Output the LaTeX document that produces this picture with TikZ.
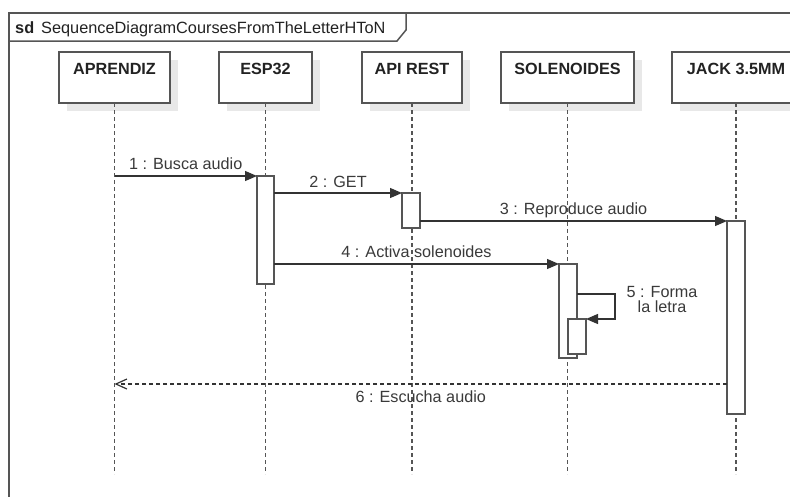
\documentclass[tikz,border=0pt]{standalone}
\usepackage{fontspec}
\setmainfont{Liberation Sans}
\usetikzlibrary{arrows.meta,shadows}
\definecolor{lc}{HTML}{555555}
\definecolor{tc}{HTML}{222222}
\definecolor{mc}{HTML}{333333}
\definecolor{lt}{HTML}{3a3a3a}
\begin{document}
\begin{tikzpicture}[x=1pt,y=-1pt,
  head/.style={draw=lc, line width=1.3pt, fill=white, minimum height=51pt, inner sep=0pt, outer sep=0pt,
    text height=22pt, text depth=29pt, font=\fontsize{16.2}{19}\selectfont\bfseries, text=tc, anchor=north,
    drop shadow={shadow xshift=8pt, shadow yshift=-8pt, fill=black!9, opacity=1}},
  act/.style={draw=lc, line width=1.3pt, fill=white, inner sep=0pt, outer sep=0pt, minimum width=18pt, anchor=north},
  life/.style={draw=lc, line width=1.2pt, dash pattern=on 4pt off 3pt},
  msg/.style={draw=mc, line width=1.2pt, -{Triangle[length=12pt,width=10pt]}},
  ret/.style={draw=mc, line width=1.2pt, dash pattern=on 4pt off 3pt, -{Straight Barb[length=11pt,width=10pt]}},
  lbl/.style={font=\fontsize{16.2}{15}\selectfont, text=lt, inner sep=0pt}
]
\clip (0,0) rectangle (790,496);
\fill[white] (0,0) rectangle (790,496);
% frame
\draw[lc, line width=1.5pt] (9,13) rectangle (840,540);
\draw[lc, line width=1.5pt] (9,41) -- (397,41) -- (406,30) -- (406,13);
\node[anchor=base west, inner sep=0pt, font=\fontsize{16.3}{19}\selectfont, text=tc] (title) at (15,33)
  {\textbf{sd}\hspace{7pt}SequenceDiagramCoursesFromTheLetterHToN};
% lifeline heads
\node[head, minimum width=111pt] (apr) at (114.5,52) {APRENDIZ};
\node[head, minimum width=93pt] (esp) at (265.5,52) {ESP32};
\node[head, minimum width=100pt] (api) at (412,52) {API REST};
\node[head, minimum width=133pt] (sol) at (567.5,52) {SOLENOIDES};
\node[head, minimum width=128pt] (jack) at (736,52) {JACK 3.5MM};
% lifelines
\foreach \n in {apr,esp,api,sol,jack}
  \draw[life] (\n.south) -- (\n.south |- 0,474);
% activations
\node[act, minimum width=17pt, minimum height=108pt] (espA) at (265.5,176) {};
\node[act, minimum height=35pt] (apiA) at (411,193) {};
\node[act, minimum height=193pt] (jackA) at (736,221) {};
\node[act, minimum height=94pt] (solA) at (568,264) {};
\node[act, minimum height=35pt] (solB) at (577,319) {};
% messages
\draw[msg] (apr |- espA.north west) -- node[lbl, anchor=base, yshift=7pt] (l1) {1 : Busca audio} (espA.north west);
\draw[msg] (espA.east |- apiA.north west) -- node[lbl, anchor=base, yshift=6pt] (l2) {2 : GET} (apiA.north west);
\draw[msg] (apiA.east |- jackA.north west) -- node[lbl, anchor=base, yshift=7pt] (l3) {3 : Reproduce audio} (jackA.north west);
\draw[msg] (espA.east |- solA.north west) -- node[lbl, anchor=base, yshift=7pt] (l4) {4 : Activa solenoides} (solA.north west);
\coordinate (m5) at (solA.east |- 0,294);
\draw[msg] (m5) -- ++(38,0) |- (solB.north east);
\node[lbl, align=center] (l5) at (662,300) {5 : Forma\\la letra};
\coordinate (m6) at (jackA.west |- 0,384);
\draw[ret] (m6) -- node[lbl, anchor=base, yshift=-18pt] (l6) {6 : Escucha audio} (apr |- m6);
\end{tikzpicture}
\end{document}
